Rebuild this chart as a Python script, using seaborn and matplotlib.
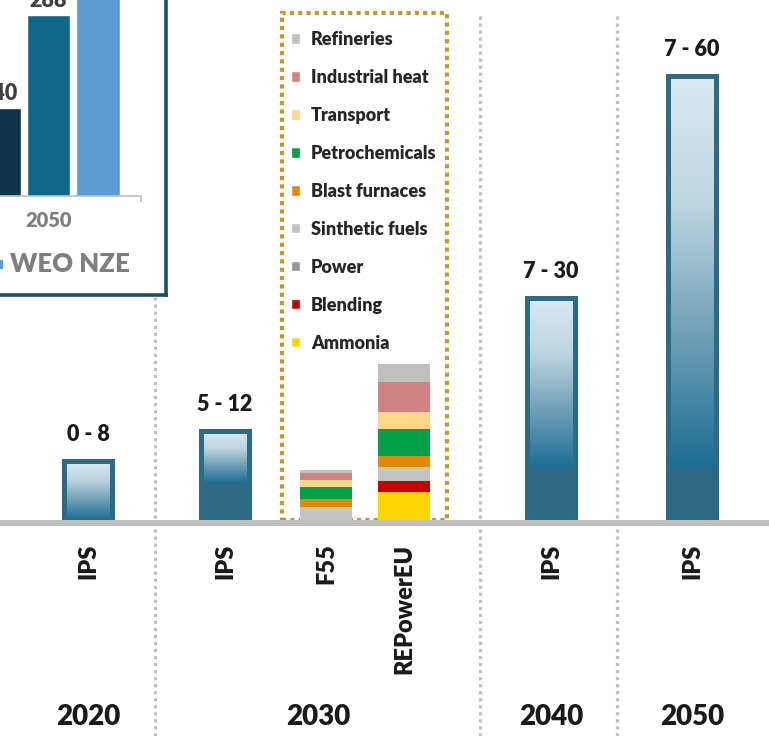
import matplotlib
matplotlib.use("Agg")
import matplotlib.pyplot as plt
import matplotlib.transforms as mtransforms
from matplotlib.colors import LinearSegmentedColormap
from matplotlib.patches import Patch, Rectangle
import numpy as np
import pandas as pd
import seaborn as sns

# IPS ranges (low - high)
ips_years = ["2020", "2030", "2040", "2050"]
ips_low = [0, 5, 7, 7]
ips_high = [8, 12, 30, 60]

# 2030 scenarios stacked by end use (bottom -> top)
sectors = ["Ammonia", "Blending", "Power", "Sinthetic fuels", "Blast furnaces",
           "Petrochemicals", "Transport", "Industrial heat", "Refineries"]
sector_colors = ["#ffd400", "#c00000", "#969696", "#c4c4c4", "#e3870b",
                 "#00a04b", "#ffd887", "#d28282", "#bfbfbf"]
f55_values = [0, 0, 0, 1.7, 1.1, 1.6, 1.0, 0.9, 0.5]
repower_values = [3.8, 1.45, 0, 1.9, 1.5, 3.7, 2.3, 4.0, 2.4]

# inset (WEO, 2050)
weo_scenarios = ["WEO STEPS", "WEO APS", "WEO NZE"]
weo_2050 = [140, 288, 360]
weo_colors = ["#0c3346", "#0f6688", "#5b9bd5"]

tick_labels = ["IPS", "IPS", "F55", "REPowerEU", "IPS", "IPS"]

# layout, in pixels of the 769x736 canvas
W, H = 769, 736
base_px = 520
px_per_unit = 7.4
ips_x = [88, 225, 551, 692]
stack_x = [326, 404]
all_x = [88, 225, 326, 404, 551, 692]
year_groups = [[88], [225, 326, 404], [551], [692]]
sep_x = [155, 480, 617]
bar_w = 48

sns.set_theme(style="white")
plt.rcParams['font.family'] = ['Lato', 'DejaVu Sans']
txt = '#1a1a1a'
heavy = 'heavy'

fig = plt.figure(figsize=(W / 100, H / 100), dpi=100)
ax = fig.add_axes([0, (H - base_px) / H, 1, base_px / H], zorder=1)

# IPS range bars: solid up to the low value, gradient up to the high value
ips_cmap = LinearSegmentedColormap.from_list("ips", ["#1b6d93", "#6f9fb6", "#bcd5e1", "#dae9f0"])
grad = np.linspace(0, 1, 256).reshape(-1, 1)
for x, lo, hi in zip(ips_x, ips_low, ips_high):
    ax.imshow(grad, extent=(x - bar_w / 2, x + bar_w / 2, lo, hi), aspect='auto',
              cmap=ips_cmap, origin='lower', zorder=2, interpolation='bicubic')
    ax.bar(x, lo, width=bar_w, color="#2e6882", linewidth=0, zorder=3)
    ax.bar(x, hi, width=bar_w, facecolor='none', edgecolor="#2d6a84", linewidth=3.6, zorder=4)
    ax.annotate(f"{lo} - {hi}", (x, hi), xytext=(0, 14.5), textcoords='offset points',
                ha='center', va='baseline', fontsize=15.5, fontweight=heavy, color=txt)

# stacked 2030 scenario bars
for x, vals in zip(stack_x, [f55_values, repower_values]):
    bottom = 0
    for v, c in zip(vals, sector_colors):
        ax.bar(x, v, bottom=bottom, width=52, color=c, linewidth=0, zorder=3)
        bottom += v

ax.set_xlim(0, W)
ax.set_ylim(0, base_px / px_per_unit)
ax.set_yticks([])
for s in ax.spines.values():
    s.set_visible(False)
ax.set_xticks(all_x, tick_labels, rotation=90, fontsize=17, fontweight=heavy, color=txt)
ax.tick_params(axis='x', length=0, pad=17)

# thick grey baseline
base_tr = mtransforms.offset_copy(ax.get_yaxis_transform(), fig=fig, y=-3, units='dots')
ax.plot([0, 1], [0, 0], transform=base_tr, color='#bfbfbf', lw=4.3, clip_on=False, zorder=5)

# year labels
for yr, grp in zip(ips_years, year_groups):
    ax.text(np.mean(grp), -(717 - base_px) / base_px, yr, transform=ax.get_xaxis_transform(),
            ha='center', va='center', fontsize=20, fontweight=heavy, color=txt)

# dotted separators and gold box around the 2030 scenarios
trans = mtransforms.blended_transform_factory(ax.transData, fig.transFigure)
for x in sep_x:
    ax.plot([x, x], [0, 1 - 15 / H], transform=trans, color='#bfbfbf', lw=2.3,
            ls=(0, (1, 1.2)), clip_on=False, zorder=0)
ax.add_patch(Rectangle((282, (H - base_px) / H), 447 - 282, (base_px - 13) / H, transform=trans,
                       fill=False, edgecolor='#c09a2c', lw=3, ls=(0, (1, 1)), clip_on=False, zorder=1))

handles = [Patch(facecolor=c) for c in sector_colors[::-1]]
fig.legend(handles, sectors[::-1], loc='upper left', bbox_to_anchor=(291 / W, 1 - 31 / H),
           frameon=False, labelspacing=1.16, handlelength=0.5, handleheight=0.5,
           handletextpad=0.6, borderpad=0, borderaxespad=0, labelcolor='#262626',
           prop={'weight': heavy, 'size': 13})

# inset box (cropped chart in the top-left corner)
box = fig.add_axes([-60 / W, (H - 294.5) / H, (166 + 60) / W, (294.5 + 60) / H], zorder=5)
box.set_xticks([])
box.set_yticks([])
box.set_facecolor('white')
for s in box.spines.values():
    s.set_color('#1c4f67')
    s.set_linewidth(2.6)

ins = fig.add_axes([-229 / W, (H - 196) / H, 370 / W, 196 / H], zorder=6)
ins.patch.set_alpha(0)
df = pd.DataFrame({"year": ["2050"] * 3, "scenario": weo_scenarios, "value": weo_2050})
sns.barplot(data=df, x="year", y="value", hue="scenario", palette=weo_colors, width=0.8,
            gap=0.11, saturation=1, legend=False, ax=ins)
for cont, v in zip(ins.containers, weo_2050):
    ins.bar_label(cont, labels=[str(v)], padding=3, fontsize=15.5, fontweight=heavy, color='#404040')
ins.set_xlim(-1.5, 0.5)
ins.set_ylim(0, 196 / 0.6285)
ins.set_xlabel("")
ins.set_ylabel("")
ins.set_yticks([])
for side in ['left', 'top', 'right']:
    ins.spines[side].set_visible(False)
ins.spines['bottom'].set_color('#bfbfbf')
ins.spines['bottom'].set_linewidth(1.2)
ins.set_xticks([0.5], minor=True)
ins.tick_params(axis='x', which='major', length=0, pad=11, labelsize=14.5, labelcolor='#7f7f7f')
ins.tick_params(axis='x', which='minor', bottom=True, length=4, width=1.2, color='#bfbfbf', direction='out')
for t in ins.get_xticklabels():
    t.set_fontweight(heavy)

# cropped legend of the inset: only the last entry is visible
fig.patches.append(Rectangle((-6 / W, 1 - 269 / H), 9 / W, 9 / H, transform=fig.transFigure,
                             facecolor=weo_colors[2], edgecolor='none', zorder=7))
fig.text(10 / W, 1 - 264 / H, "WEO NZE", ha='left', va='center', fontsize=18.5,
         fontweight=heavy, color='#7f7f7f', zorder=7)

fig.savefig("out.png", dpi=100)
